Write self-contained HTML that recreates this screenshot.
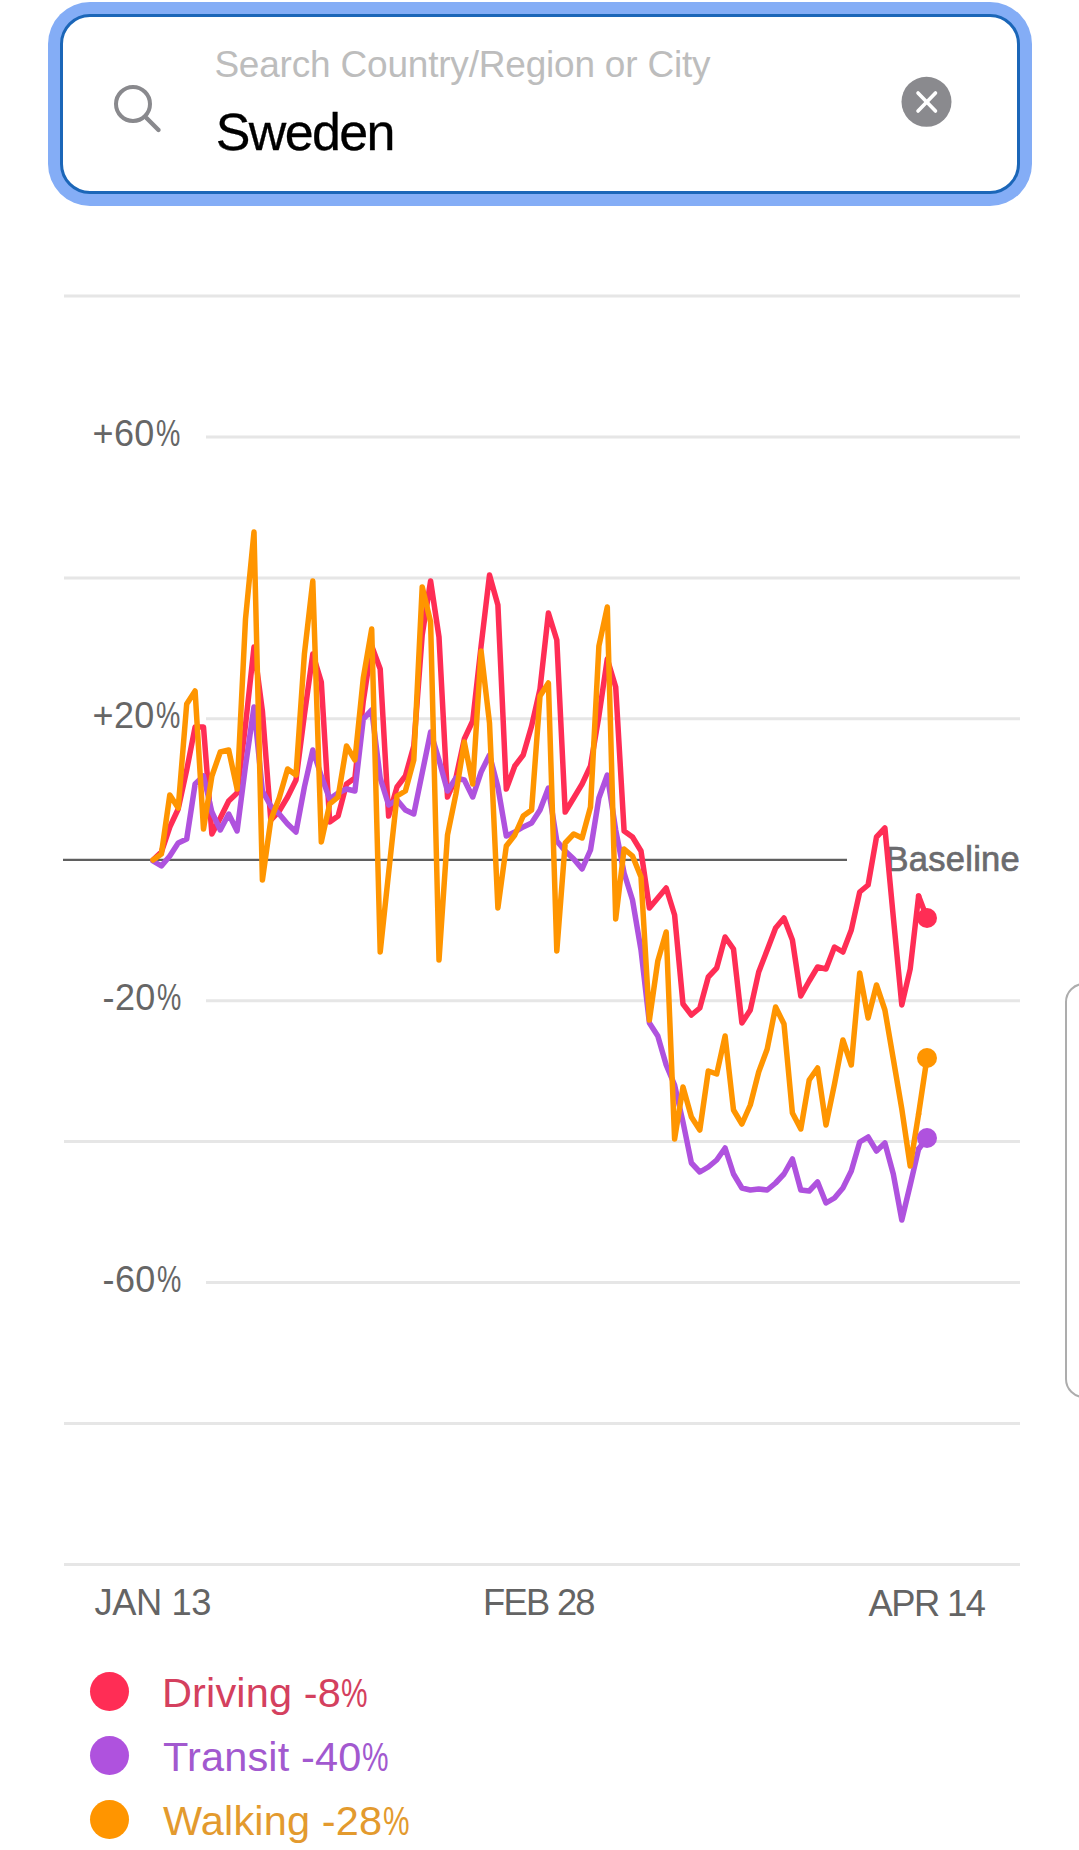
<!DOCTYPE html>
<html><head><meta charset="utf-8">
<style>
html,body{margin:0;padding:0;background:#fff;}
body{width:1079px;height:1850px;position:relative;overflow:hidden;font-family:"Liberation Sans",sans-serif;}
.box{position:absolute;left:60px;top:14px;width:954px;height:174px;border:3px solid #1b66b8;border-radius:30px;box-shadow:0 0 0 12px #84adf6;background:#fff;}
.t{position:absolute;line-height:normal;white-space:nowrap;}
.dot{position:absolute;left:90px;width:39px;height:39px;border-radius:50%;}
.sb{position:absolute;left:1065px;top:982.5px;width:40px;height:415px;border:2px solid #adadad;border-radius:19px;box-sizing:border-box;}
svg{position:absolute;left:0;top:0;}
</style></head><body>
<div class="box"></div>
<svg width="1079" height="220" viewBox="0 0 1079 220">
<circle cx="133" cy="104" r="17" fill="none" stroke="#89898d" stroke-width="4"/>
<line x1="146.5" y1="118" x2="158.5" y2="130" stroke="#89898d" stroke-width="4.4" stroke-linecap="round"/>
<circle cx="926.5" cy="101.8" r="25" fill="#8a8a8e"/>
<line x1="918" y1="93" x2="935.5" y2="111" stroke="#fff" stroke-width="3.6" stroke-linecap="round"/>
<line x1="935.5" y1="93" x2="918" y2="111" stroke="#fff" stroke-width="3.6" stroke-linecap="round"/>
</svg>
<div class="t" style="left:214.4px;top:43.8px;font-size:37px;letter-spacing:-0.20px;color:#bdbdbd;">Search Country/Region or City</div>
<div class="t" style="left:215.8px;top:102.2px;font-size:52px;letter-spacing:-1.68px;color:#000;-webkit-text-stroke:0.3px #000;">Sweden</div>

<div class="t" style="left:92.5px;top:412.6px;font-size:36px;letter-spacing:0.40px;color:#666;">+60<span style="display:inline-block;transform:scaleX(0.76);transform-origin:0 0;margin-left:0.8px">%</span></div>
<div class="t" style="left:92.5px;top:694.5px;font-size:36px;letter-spacing:0.40px;color:#666;">+20<span style="display:inline-block;transform:scaleX(0.76);transform-origin:0 0;margin-left:0.8px">%</span></div>
<div class="t" style="left:102.5px;top:977.0px;font-size:36px;letter-spacing:0.40px;color:#666;">-20<span style="display:inline-block;transform:scaleX(0.76);transform-origin:0 0;margin-left:0.8px">%</span></div>
<div class="t" style="left:102.5px;top:1258.9px;font-size:36px;letter-spacing:0.40px;color:#666;">-60<span style="display:inline-block;transform:scaleX(0.76);transform-origin:0 0;margin-left:0.8px">%</span></div>

<div class="t" style="left:885.6px;top:840.0px;font-size:34.5px;letter-spacing:0.26px;color:#6b6b6e;-webkit-text-stroke:0.7px #6b6b6e;">Baseline</div>

<svg width="1079" height="1850" viewBox="0 0 1079 1850" style="top:0">
<line x1="64" y1="296.0" x2="1020" y2="296.0" stroke="#e6e6e6" stroke-width="3"/>
<line x1="206" y1="436.9" x2="1020" y2="436.9" stroke="#e6e6e6" stroke-width="3"/>
<line x1="64" y1="577.9" x2="1020" y2="577.9" stroke="#e6e6e6" stroke-width="3"/>
<line x1="206" y1="718.8" x2="1020" y2="718.8" stroke="#e6e6e6" stroke-width="3"/>
<line x1="206" y1="1000.7" x2="1020" y2="1000.7" stroke="#e6e6e6" stroke-width="3"/>
<line x1="64" y1="1141.6" x2="1020" y2="1141.6" stroke="#e6e6e6" stroke-width="3"/>
<line x1="206" y1="1282.6" x2="1020" y2="1282.6" stroke="#e6e6e6" stroke-width="3"/>
<line x1="64" y1="1423.5" x2="1020" y2="1423.5" stroke="#e6e6e6" stroke-width="3"/>
<line x1="64" y1="1564.5" x2="1020" y2="1564.5" stroke="#e6e6e6" stroke-width="3"/>

<line x1="63" y1="859.8" x2="847" y2="859.8" stroke="#5f5f5f" stroke-width="2.2"/>
<g fill="none" stroke-width="5.5" stroke-linejoin="round" stroke-linecap="round">
<polyline points="153.0,860 161.4,852 169.8,827 178.2,809 186.7,770 195.1,727 203.5,727 211.9,834 220.3,818 228.7,801 237.1,793 245.5,725 254.0,647 262.4,711 270.8,820 279.2,811 287.6,797 296.0,780 304.4,715 312.8,654 321.3,682 329.7,822 338.1,816 346.5,784 354.9,778 363.3,701 371.7,646 380.2,669 388.6,816 397.0,787 405.4,776 413.8,746 422.2,635 430.6,581 439.0,637 447.5,797 455.9,778 464.3,739 472.7,721 481.1,646 489.5,575 497.9,605 506.3,789 514.8,766 523.2,755 531.6,726 540.0,689 548.4,613 556.8,640 565.2,812 573.7,798 582.1,784 590.5,766 598.9,716 607.3,659 615.7,687 624.1,831 632.5,837 641.0,851 649.4,908 657.8,898 666.2,888 674.6,915 683.0,1004 691.4,1015 699.8,1008 708.3,977 716.7,968 725.1,937 733.5,949 741.9,1023 750.3,1010 758.7,972 767.2,950 775.6,928 784.0,918 792.4,940 800.8,996 809.2,981 817.6,967 826.0,969 834.5,947 842.9,952 851.3,930 859.7,892 868.1,885 876.5,837 884.9,828 893.3,917 901.8,1005 910.2,969 918.6,896" stroke="#ff2d55"/>
<polyline points="153.0,861 161.4,866 169.8,856 178.2,843 186.7,839 195.1,784 203.5,776 211.9,812 220.3,830 228.7,814 237.1,831 245.5,766 254.0,707 262.4,791 270.8,806 279.2,814 287.6,824 296.0,832 304.4,787 312.8,750 321.3,776 329.7,799 338.1,793 346.5,789 354.9,791 363.3,719 371.7,710 380.2,778 388.6,805 397.0,800 405.4,810 413.8,814 422.2,773 430.6,732 439.0,760 447.5,791 455.9,778 464.3,780 472.7,797 481.1,772 489.5,755 497.9,787 506.3,836 514.8,832 523.2,827 531.6,823 540.0,810 548.4,788 556.8,841 565.2,851 573.7,859 582.1,869 590.5,850 598.9,798 607.3,775 615.7,830 624.1,873 632.5,900 641.0,950 649.4,1023 657.8,1036 666.2,1065 674.6,1085 683.0,1122 691.4,1163 699.8,1172 708.3,1167 716.7,1160 725.1,1148 733.5,1174 741.9,1188 750.3,1190 758.7,1189 767.2,1190 775.6,1183 784.0,1174 792.4,1159 800.8,1190 809.2,1191 817.6,1182 826.0,1203 834.5,1198 842.9,1188 851.3,1171 859.7,1142 868.1,1137 876.5,1151 884.9,1143 893.3,1174 901.8,1220 910.2,1185 918.6,1149" stroke="#af52de"/>
<polyline points="153.0,860 161.4,854 169.8,795 178.2,808 186.7,704 195.1,691 203.5,829 211.9,776 220.3,752 228.7,750 237.1,789 245.5,619 254.0,532 262.4,880 270.8,820 279.2,798 287.6,769 296.0,775 304.4,654 312.8,581 321.3,842 329.7,804 338.1,797 346.5,746 354.9,760 363.3,678 371.7,629 380.2,952 388.6,873 397.0,796 405.4,791 413.8,760 422.2,587 430.6,622 439.0,960 447.5,835 455.9,794 464.3,742 472.7,784 481.1,651 489.5,723 497.9,908 506.3,846 514.8,835 523.2,816 531.6,810 540.0,696 548.4,683 556.8,951 565.2,843 573.7,834 582.1,838 590.5,807 598.9,646 607.3,607 615.7,919 624.1,849 632.5,856 641.0,877 649.4,1020 657.8,961 666.2,932 674.6,1139 683.0,1087 691.4,1117 699.8,1130 708.3,1071 716.7,1074 725.1,1036 733.5,1110 741.9,1124 750.3,1105 758.7,1072 767.2,1049 775.6,1007 784.0,1024 792.4,1113 800.8,1129 809.2,1080 817.6,1068 826.0,1125 834.5,1084 842.9,1040 851.3,1065 859.7,973 868.1,1018 876.5,985 884.9,1010 893.3,1059 901.8,1109 910.2,1166 918.6,1114" stroke="#ff9500"/>
<path d="M918.6,896 L927.0,918" stroke="#ff2d55"/>
<path d="M918.6,1114 L927.0,1058" stroke="#ff9500"/>
<path d="M918.6,1149 L927.0,1138" stroke="#af52de"/>
</g>
<circle cx="927" cy="918" r="10" fill="#ff2d55"/>
<circle cx="927" cy="1058" r="10" fill="#ff9500"/>
<circle cx="927" cy="1138" r="10" fill="#af52de"/>
</svg>
<div class="t" style="left:94.6px;top:1582.4px;font-size:36.3px;letter-spacing:-0.42px;color:#646464;">JAN 13</div>
<div class="t" style="left:483.0px;top:1582.4px;font-size:36.3px;letter-spacing:-1.70px;color:#646464;">FEB 28</div>
<div class="t" style="left:868.6px;top:1582.6px;font-size:36.3px;letter-spacing:-1.55px;color:#646464;">APR 14</div>

<div class="dot" style="top:1672px;background:#ff2d55"></div>
<div class="dot" style="top:1736px;background:#af52de"></div>
<div class="dot" style="top:1800px;background:#ff9500"></div>
<div class="t" style="left:162.0px;top:1668.7px;font-size:41.5px;letter-spacing:0.15px;color:#d4405e;">Driving -8<span style="display:inline-block;transform:scaleX(0.72);transform-origin:0 0;margin-left:0.3px">%</span></div>
<div class="t" style="left:163.0px;top:1732.5px;font-size:41.5px;letter-spacing:0.15px;color:#a259cf;">Transit -40<span style="display:inline-block;transform:scaleX(0.72);transform-origin:0 0;margin-left:0.3px">%</span></div>
<div class="t" style="left:163.0px;top:1797.1px;font-size:41.5px;letter-spacing:0.15px;color:#e39a2e;">Walking -28<span style="display:inline-block;transform:scaleX(0.72);transform-origin:0 0;margin-left:0.3px">%</span></div>

<div class="sb"></div>
</body></html>
